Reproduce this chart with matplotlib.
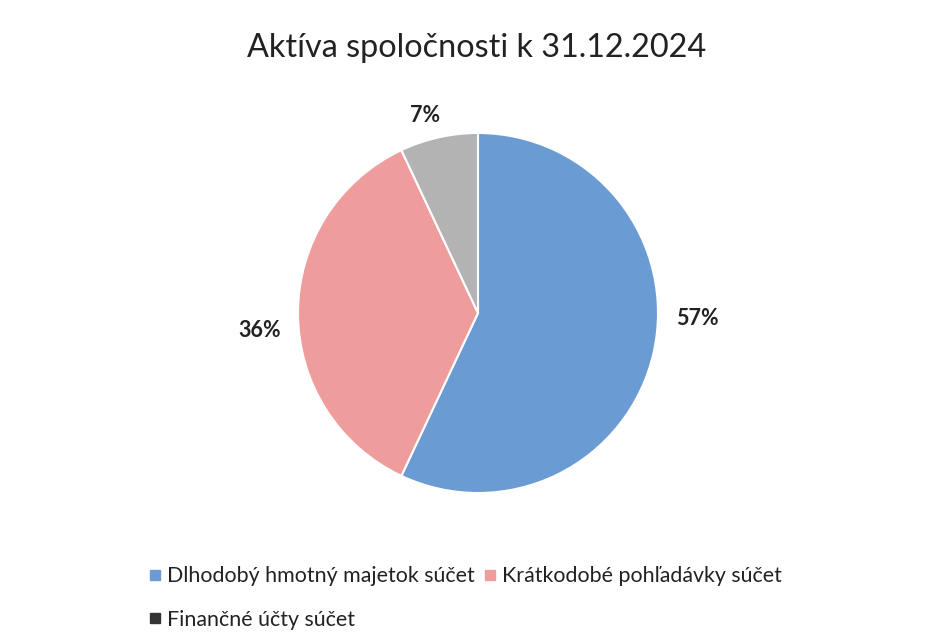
import matplotlib
matplotlib.use("Agg")
import matplotlib.pyplot as plt
from matplotlib.lines import Line2D

title = "Aktíva spoločnosti k 31.12.2024"
categories = ["Dlhodobý hmotný majetok súčet", "Krátkodobé pohľadávky súčet", "Finančné účty súčet"]
values = [57, 36, 7]
slice_colors = ["#6a9bd2", "#ee9c9c", "#b3b3b3"]
legend_colors = ["#6a9bd2", "#ee9c9c", "#333333"]
pct_labels = ["57%", "36%", "7%"]

W, H = 926, 644
fig = plt.figure(figsize=(W / 100, H / 100), dpi=100)
fig.patch.set_facecolor("white")

cx, cy, r = 478, 313, 180
ax = fig.add_axes([(cx - r) / W, 1 - (cy + r) / H, 2 * r / W, 2 * r / H])
wedges, _ = ax.pie(values, colors=slice_colors, startangle=90, counterclock=False,
                   wedgeprops=dict(edgecolor="white", linewidth=1.5))
ax.set_xlim(-1, 1)
ax.set_ylim(-1, 1)
ax.set_aspect("equal")
ax.axis("off")

font = "Lato"
# data label positions (in pie-radius units)
label_pos = [(1.22, -0.03), (-1.215, -0.095), (-0.295, 1.10)]
for (x, y), t in zip(label_pos, pct_labels):
    ax.text(x, y, t, ha="center", va="center", fontsize=15.5, fontweight="bold",
            color="#222222", family=font)

fig.text(477 / W, 1 - 48 / H, title, ha="center", va="center", fontsize=23.3,
         color="#222222", family=font)

handles = [Line2D([], [], marker="s", linestyle="none", markersize=7.2,
                  markerfacecolor=c, markeredgecolor=c) for c in legend_colors]
order = [0, 2, 1]
leg = fig.legend([handles[i] for i in order], [categories[i] for i in order],
                 ncol=2, loc="upper left", bbox_to_anchor=(150 / W, 1 - 566 / H),
                 frameon=False, prop=dict(family=font, size=15.4),
                 handlelength=0.5, handletextpad=0.3, columnspacing=0.45,
                 labelspacing=1.12, borderaxespad=0, borderpad=0)
for t in leg.get_texts():
    t.set_color("#222222")

fig.savefig("out.png", dpi=100, facecolor="white")
